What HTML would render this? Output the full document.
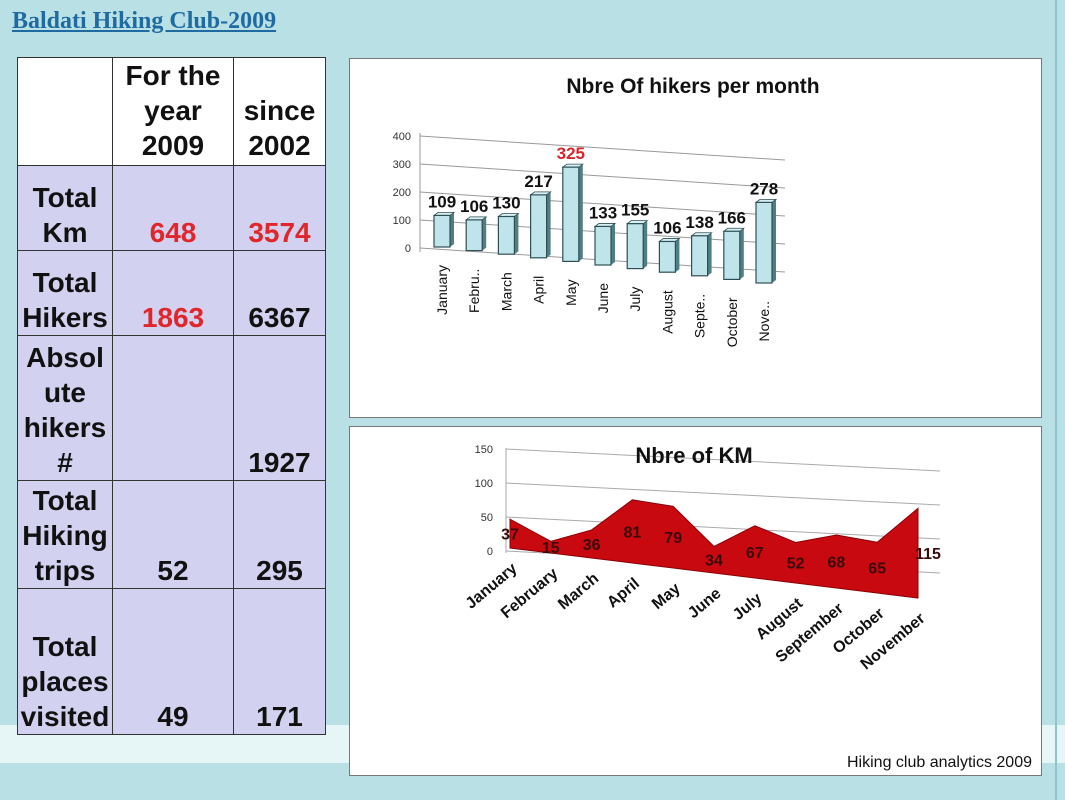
<!DOCTYPE html>
<html><head><meta charset="utf-8"><style>
body{margin:0;width:1065px;height:800px;overflow:hidden;background:#b9e1e5;font-family:"Liberation Sans",sans-serif;position:relative}
.abs{position:absolute}
.cell{position:absolute;box-sizing:border-box;border:1.5px solid #333;background:#d2d2f0;font-weight:bold;font-size:28px;line-height:35px;color:#111;display:flex;flex-direction:column;justify-content:flex-end;align-items:center;text-align:center;padding-bottom:0}
.hd{background:#fff}
.red{color:#e0262b}
.panel{position:absolute;background:#fff;border:1px solid #777;box-sizing:border-box}
</style></head><body>
<div class="abs" style="left:0;top:725px;width:1065px;height:38px;background:#e6f6f7"></div>
<div class="abs" style="left:1055px;top:0;width:2px;height:800px;background:#8fc4ca"></div>
<div class="abs" style="left:12px;top:8px;font-family:'Liberation Serif',serif;font-weight:bold;font-size:24px;color:#1f6aa0;text-decoration:underline">Baldati Hiking Club-2009</div>

<div>
<div class="cell hd" style="left:17px;top:57px;width:96px;height:109px"></div>
<div class="cell hd" style="left:112px;top:57px;width:122px;height:109px;padding-bottom:2px">For the<br>year<br>2009</div>
<div class="cell hd" style="left:233px;top:57px;width:93px;height:109px;padding-bottom:2px">since<br>2002</div>

<div class="cell" style="left:17px;top:165px;width:96px;height:86px">Total<br>Km</div>
<div class="cell red" style="left:112px;top:165px;width:122px;height:86px">648</div>
<div class="cell red" style="left:233px;top:165px;width:93px;height:86px">3574</div>

<div class="cell" style="left:17px;top:250px;width:96px;height:86px">Total<br>Hikers</div>
<div class="cell red" style="left:112px;top:250px;width:122px;height:86px">1863</div>
<div class="cell" style="left:233px;top:250px;width:93px;height:86px">6367</div>

<div class="cell" style="left:17px;top:335px;width:96px;height:146px">Absol<br>ute<br>hikers<br>#</div>
<div class="cell" style="left:112px;top:335px;width:122px;height:146px"></div>
<div class="cell" style="left:233px;top:335px;width:93px;height:146px">1927</div>

<div class="cell" style="left:17px;top:480px;width:96px;height:109px">Total<br>Hiking<br>trips</div>
<div class="cell" style="left:112px;top:480px;width:122px;height:109px">52</div>
<div class="cell" style="left:233px;top:480px;width:93px;height:109px">295</div>

<div class="cell" style="left:17px;top:588px;width:96px;height:147px">Total<br>places<br>visited</div>
<div class="cell" style="left:112px;top:588px;width:122px;height:147px">49</div>
<div class="cell" style="left:233px;top:588px;width:93px;height:147px">171</div>
</div>

<div class="panel" style="left:349px;top:58px;width:693px;height:360px"></div>
<div class="panel" style="left:349px;top:426px;width:693px;height:350px"></div>

<svg class="abs" style="left:0;top:0" width="1065" height="800">
<text x="693" y="93" text-anchor="middle" font-size="21" font-weight="bold" fill="#111">Nbre Of hikers per month</text>
<g id="bars"></g>
<g id="area"></g>
<text x="1032" y="767" text-anchor="end" font-size="16" fill="#111">Hiking club analytics 2009</text>
</svg>

<script>
const months=["January","Febru..","March","April","May","June","July","August","Septe..","October","Nove.."];
const hikers=[109,106,130,217,325,133,155,106,138,166,278];
const hikerTicks=[0,100,200,300,400];
const kmMonths=["January","February","March","April","May","June","July","August","September","October","November"];
const km=[37,15,36,81,79,34,67,52,68,65,115];
const kmTicks=[0,50,100,150];

const NS="http://www.w3.org/2000/svg";
function mk(p,tag,a){const e=document.createElementNS(NS,tag);for(const k in a)e.setAttribute(k,a[k]);p.appendChild(e);return e;}

// bar chart axes
const bx=i=>442+i*32.2, bBase=i=>247+i*3.6, bk=0.29;
const bars=document.getElementById('bars');
hikerTicks.forEach(t=>{
  const y=248-t*bk*0.965;
  const l=mk(bars,'line',{x1:420,y1:y,x2:785,y2:y+24,stroke:'#999','stroke-width':1});
  
  
  const tx=mk(bars,'text',{x:411,y:y+4,'text-anchor':'end','font-size':11,fill:'#333'});
  tx.textContent=t;
  
  
});
mk(bars,'line',{x1:420,y1:133,x2:420,y2:252,stroke:'#999'});
hikers.forEach((v,i)=>{
  const x=bx(i),b=bBase(i),h=v*bk;
  const g=mk(bars,'g',{});
  
  
  mk(g,'polygon',{points:`${x+8},${b-h} ${x+12},${b-h-3} ${x+12},${b-3} ${x+8},${b}`,fill:'#4f7f85'});
  mk(g,'polygon',{points:`${x-8},${b-h} ${x-4},${b-h-3} ${x+12},${b-h-3} ${x+8},${b-h}`,fill:'#d8f0f2',stroke:'#2f4f55','stroke-width':0.8});
  mk(g,'rect',{x:x-8,y:b-h,width:16,height:h,fill:'#bfe4ea',stroke:'#2f4f55','stroke-width':1.2});
  const lab=mk(bars,'text',{x:x,y:b-h-8,'text-anchor':'middle','font-size':17,'font-weight':'bold',fill:i==4?'#d9262b':'#111'});
  lab.textContent=v;
  
  
  const cl=mk(bars,'text',{transform:`translate(${x+5},${b+18}) rotate(-90)`,'text-anchor':'end','font-size':14,fill:'#111'});
  cl.textContent=months[i];
  
  
});

// area chart
const area=document.getElementById('area');
const ax=i=>510+i*40.8, aBase=i=>548+i*5, ak=0.78;
kmTicks.forEach(t=>{
  const y=551-t*0.68;
  const l=mk(area,'line',{x1:506,y1:y,x2:940,y2:y+22,stroke:'#aaa','stroke-width':1});
  
  
  const tx=mk(area,'text',{x:493,y:y+4,'text-anchor':'end','font-size':11,fill:'#333'});
  tx.textContent=t;
  
  
});
mk(area,'line',{x1:506,y1:448,x2:506,y2:553,stroke:'#aaa'});
const topPts=km.map((v,i)=>`${ax(i)},${aBase(i)-v*ak}`).join(' ');
const botPts=km.map((v,i)=>`${ax(i)},${aBase(i)}`).reverse().join(' ');
const poly=mk(area,'polygon',{points:topPts+' '+botPts,fill:'#c8090f',stroke:'#8a0008','stroke-width':1});


const ttl=mk(area,'text',{x:694,y:463,'text-anchor':'middle','font-size':22,'font-weight':'bold',fill:'#111'});
ttl.textContent='Nbre of KM';


km.forEach((v,i)=>{
  const x=ax(i),b=aBase(i),t=b-v*ak;
  const lab=mk(area,'text',{x:x+(i==10?10:0),y:(t+b)/2+6,'text-anchor':'middle','font-size':16,'font-weight':'bold',fill:'#3a0a0a'});
  lab.textContent=v;
  
  
  const cl=mk(area,'text',{transform:`translate(${x+8},${b+22}) rotate(-40)`,'text-anchor':'end','font-size':16,'font-weight':'bold',fill:'#111'});
  cl.textContent=kmMonths[i];
  
  
});
</script>
</body></html>
